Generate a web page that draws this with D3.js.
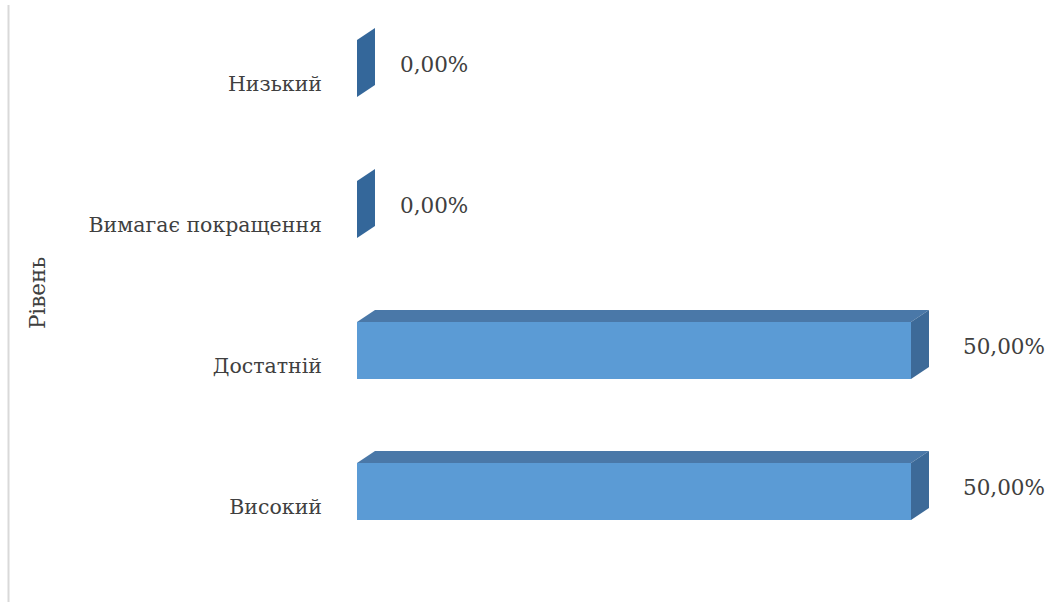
<!DOCTYPE html>
<html><head><meta charset="utf-8">
<script src="https://cdn.jsdelivr.net/npm/d3@7"></script>
<style>body{margin:0;background:#fff}svg{display:block}text{font-family:"DejaVu Serif",serif}</style>
</head><body>
<svg id="c" width="1046" height="602"></svg>
<script>
const categories = ["Низький", "Вимагає покращення", "Достатній", "Високий"];
const values = [0, 0, 0.5, 0.5];
const valueLabels = ["0,00%", "0,00%", "50,00%", "50,00%"];
const axisTitle = "Рівень";

const svg = d3.select("#c");
const W = 1046, H = 602;
const depthX = 18, depthY = -12;

svg.append("line").attr("x1", 8.5).attr("x2", 8.5).attr("y1", 5).attr("y2", H)
  .attr("stroke", "#d9d9d9").attr("stroke-width", 2);

const x = d3.scaleLinear().domain([0, 0.5]).range([357, 911]);
const y = d3.scaleBand().domain(categories).range([0, 564]).paddingInner(0.6).paddingOuter(0.3);
const y0 = 40 - y(categories[0]);
const bh = 57;
const yb = c => y(c) + y0;

const g = svg.append("g");
categories.forEach((c, i) => {
  const x0 = x(0), x1 = x(values[i]), t = yb(c), b = t + bh;
  if (x1 > x0) {
    g.append("path").attr("d", `M${x0},${t}L${x0+depthX},${t+depthY}L${x1+depthX},${t+depthY}L${x1},${t}Z`)
      .attr("fill", "#4a78a8");
  }
  g.append("path").attr("d", `M${x1},${t}L${x1+depthX},${t+depthY}L${x1+depthX},${b+depthY}L${x1},${b}Z`)
    .attr("fill", x1 > x0 ? "#3d6a98" : "#34679a");
  if (x1 > x0) {
    g.append("rect").attr("x", x0).attr("y", t).attr("width", x1 - x0).attr("height", bh)
      .attr("fill", "#5b9bd5");
  }
});

svg.append("g").selectAll("text").data(categories).join("text")
  .attr("x", 322).attr("y", c => yb(c) + 45)
  .attr("text-anchor", "end").attr("dominant-baseline", "middle")
  .attr("font-size", 20.5)
  .attr("fill", "#404040").text(c => c);

svg.append("g").selectAll("text").data(categories).join("text")
  .attr("x", (c, i) => x(values[i]) + (values[i] > 0 ? 52 : 43))
  .attr("y", (c, i) => yb(c) + bh / 2 - 3)
  .attr("dominant-baseline", "middle")
  .attr("font-size", 21.5)
  .attr("fill", "#404040").text((c, i) => valueLabels[i]);

svg.append("text").attr("transform", "translate(39,293) rotate(-90)")
  .attr("text-anchor", "middle").attr("dominant-baseline", "middle")
  .attr("font-size", 21.5)
  .attr("fill", "#404040").text(axisTitle);
</script>
</body></html>
